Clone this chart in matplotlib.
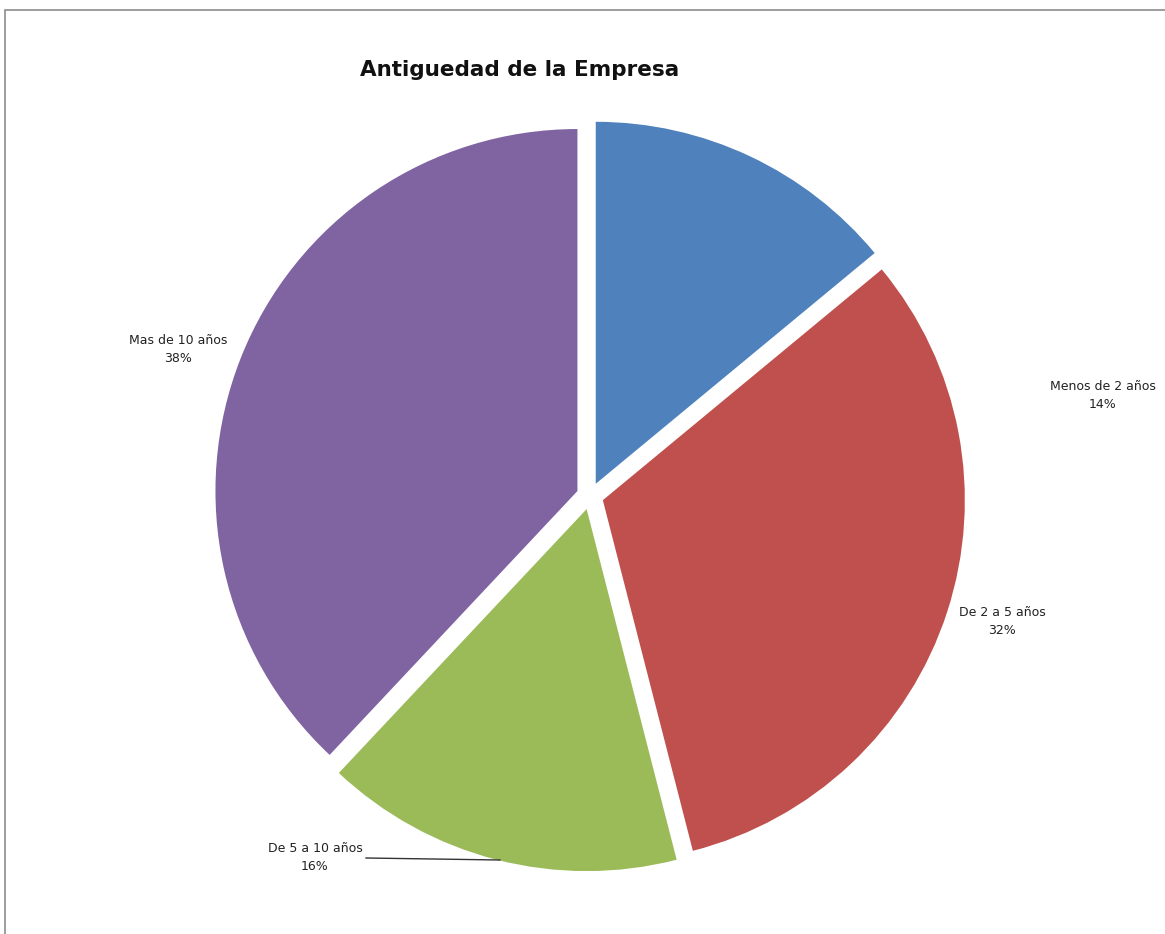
import matplotlib
matplotlib.use("Agg")
import matplotlib.pyplot as plt
from matplotlib.patches import Rectangle

# antiguedad de la empresa (share of companies)
categorias = ["Menos de 2 años", "De 2 a 5 años", "De 5 a 10 años", "Mas de 10 años"]
porcentajes = [14, 32, 16, 38]
colores = ["#4F81BD", "#C0504D", "#9BBB59", "#8064A2"]

W, H = 1165, 934
fig = plt.figure(figsize=(W / 100, H / 100), dpi=100)
ax = fig.add_axes([0, 0, 1, 1])

# explode is in data units here (pixels), every slice pulled out a bit
wedges, _ = ax.pie(porcentajes, colors=colores, startangle=90, counterclock=False,
                   center=(590, H - 496), radius=362,
                   explode=[13.5] * 4,
                   wedgeprops=dict(linewidth=0))

ax.set_xlim(0, W)
ax.set_ylim(0, H)
ax.set_aspect("equal")
ax.axis("off")

# chart area border (runs off the right/bottom edge)
ax.add_patch(Rectangle((5, -20), W + 40, H - 10 + 20, fill=False,
                       edgecolor="#8c8c8c", linewidth=1.2))

ax.text(520, H - 70, "Antiguedad de la Empresa", ha="center", va="center",
        fontsize=15.5, fontweight="bold", family="DejaVu Sans", color="#111111")

# data labels: name + percentage
pos_etiquetas = [(1103, H - 395), (1002, H - 622), (315, H - 858), (178, H - 350)]
for nombre, pct, (x, y) in zip(categorias, porcentajes, pos_etiquetas):
    ax.text(x, y, f"{nombre}\n{pct}%", ha="center", va="center",
            fontsize=9, color="#222222", linespacing=1.5)

# leader line for the green slice
ax.plot([366, 500], [H - 858, H - 860], color="#333333", linewidth=1)

fig.savefig("out.png", dpi=100)
